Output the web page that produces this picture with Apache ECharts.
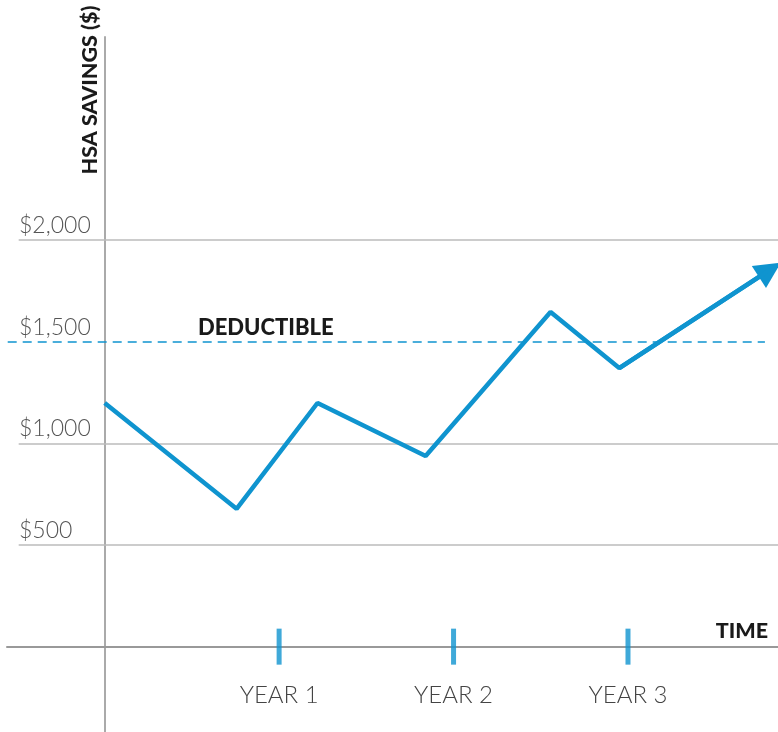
<!DOCTYPE html>
<html>
<head>
<meta charset="utf-8">
<script src="https://cdn.jsdelivr.net/npm/echarts@6/dist/echarts.min.js"></script>
<style>html,body{margin:0;padding:0;background:#fff}#c{width:778px;height:732px}</style>
</head>
<body>
<div id="c"></div>
<script>
// Time in years (x) and HSA savings in dollars (y)
const savingsTime = [0, 0.756, 1.22, 1.84, 2.556, 2.95, 3.813];
const savingsValues = [1199, 678, 1199, 938, 1647, 1371, 1854];
const yearTicks = [1, 2, 3];
const yearLabels = ['YEAR 1', 'YEAR 2', 'YEAR 3'];
const dollarTicks = [500, 1000, 1500, 2000];
const gridValues = [500, 1000, 2000];
const deductible = 1500;

const X_MIN = -0.56, X_MAX = 3.86;
const BLUE = '#0f94cf';
const FONT = 'Lato';

const chart = echarts.init(document.getElementById('c'), null, {renderer: 'canvas'});

const lineData = savingsTime.map((t, i) => [t, savingsValues[i]]);
const n = lineData.length;

chart.setOption({
  animation: false,
  grid: {left: 7, right: 0, top: 37, bottom: 0, containLabel: false, outerBoundsMode: 'none'},
  xAxis: {
    type: 'value', min: X_MIN, max: X_MAX,
    axisLine: {show: true, onZero: true, lineStyle: {color: '#999', width: 2}},
    axisTick: {show: false},
    splitLine: {show: false},
    axisLabel: {
      customValues: yearTicks,
      formatter: v => yearLabels[yearTicks.indexOf(v)] || '',
      inside: true, margin: 25, verticalAlign: 'bottom',
      color: '#444', fontFamily: FONT, fontWeight: 300, fontSize: 24
    }
  },
  yAxis: {
    type: 'value', min: -420, max: 3000,
    axisLine: {show: true, onZero: true, lineStyle: {color: '#aaa', width: 2}},
    axisTick: {show: false},
    splitLine: {show: false},
    axisLabel: {
      customValues: dollarTicks,
      formatter: v => '$' + v.toLocaleString('en-US'),
      inside: true, align: 'left', verticalAlign: 'bottom', margin: 12, padding: [0, 0, 3, 0],
      color: '#555', fontFamily: FONT, fontWeight: 300, fontSize: 23
    }
  },
  graphic: [
    {type: 'text', x: 90, y: 90, rotation: Math.PI / 2,
     style: {text: 'HSA SAVINGS ($)', align: 'center', verticalAlign: 'middle',
             font: '900 21.5px Lato', fill: '#1a1a1a'}},
    {type: 'text', x: 768, y: 631,
     style: {text: 'TIME', align: 'right', verticalAlign: 'middle',
             font: '900 21.5px Lato', fill: '#1a1a1a'}},
    {type: 'text', x: 198, y: 327.5,
     style: {text: 'DEDUCTIBLE', align: 'left', verticalAlign: 'middle',
             font: '900 22px Lato', fill: '#1a1a1a'}}
  ],
  series: [
    {
      type: 'line', data: [], silent: true,
      markLine: {
        silent: true, symbol: ['none', 'none'], label: {show: false},
        lineStyle: {color: '#bbb', width: 1.5, type: 'solid'},
        data: gridValues.map(v => [{coord: [-0.493, v]}, {coord: [X_MAX, v]}])
      }
    },
    {
      type: 'line', data: [], silent: true,
      markLine: {
        silent: true, symbol: ['none', 'none'], label: {show: false},
        lineStyle: {color: BLUE, width: 1.5, type: [9, 6]},
        data: [[{coord: [-0.556, deductible]}, {coord: [3.785, deductible]}]]
      }
    },
    {
      type: 'scatter', data: yearTicks.map(t => [t, 0]), silent: true,
      symbol: 'rect', symbolSize: [5, 36], itemStyle: {color: BLUE}, z: 4
    },
    {
      type: 'line', data: lineData, showSymbol: false, silent: true, z: 5,
      lineStyle: {color: BLUE, width: 4.5}, clip: false,
      markLine: {
        silent: true, symbol: ['none', 'triangle'], symbolSize: [26, 26],
        label: {show: false},
        lineStyle: {color: BLUE, width: 4.5, type: 'solid'},
        itemStyle: {color: BLUE},
        data: [[{coord: lineData[n - 2]}, {coord: lineData[n - 1]}]]
      }
    }
  ]
});
</script>
</body>
</html>
